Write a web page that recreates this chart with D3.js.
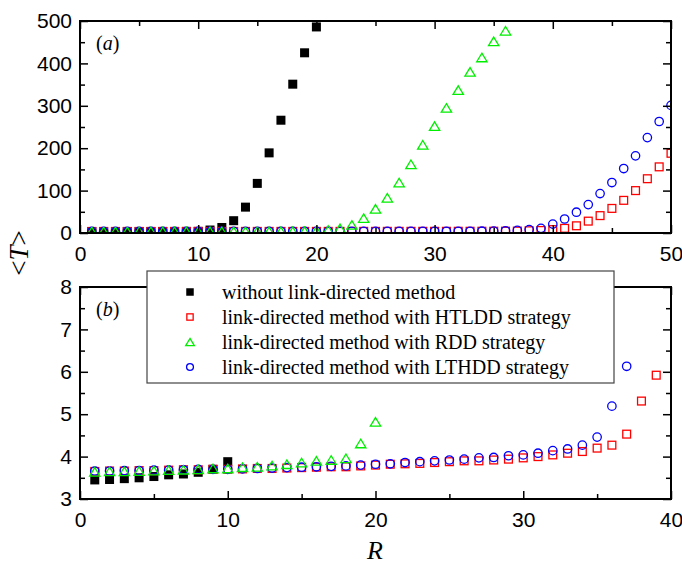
<!DOCTYPE html>
<html>
<head>
<meta charset="utf-8">
<script src="https://cdn.jsdelivr.net/npm/d3@7"></script>
<style>
  body { margin: 0; background: #fff; }
  svg { display: block; }
</style>
</head>
<body>
<svg id="chart" width="682" height="566"></svg>
<script>
// R values (network parameter) shared by all series
const rValues = [1,2,3,4,5,6,7,8,9,10,11,12,13,14,15,16,17,18,19,20,
                 21,22,23,24,25,26,27,28,29,30,31,32,33,34,35,36,37,38,39,40,
                 41,42,43,44,45,46,47,48,49,50];

// <T> for each series (index i -> R = rValues[i])
const tNoLink = [3.45,3.46,3.48,3.50,3.53,3.57,3.59,3.63,3.70,3.88,
                 7,13,29,61,117,189,266,351,425,486];
const tHTLDD = [3.65,3.66,3.66,3.67,3.67,3.68,3.69,3.69,3.70,3.70,
                3.71,3.72,3.72,3.73,3.74,3.75,3.76,3.76,3.78,3.80,
                3.82,3.83,3.84,3.86,3.88,3.90,3.90,3.92,3.94,3.97,
                4.00,4.04,4.08,4.12,4.20,4.27,4.53,5.31,5.92,8,
                11,17,28,41,58,77,100,128,156,188];
const tRDD = [3.64,3.65,3.65,3.66,3.67,3.68,3.69,3.70,3.72,3.72,
              3.75,3.76,3.79,3.82,3.86,3.90,3.92,3.96,4.31,4.82,
              7,11,19,35,57,83,119,162,208,252,295,337,380,414,452,477];
const tLTHDD = [3.66,3.66,3.67,3.67,3.68,3.68,3.69,3.70,3.70,3.70,
                3.71,3.72,3.73,3.74,3.75,3.76,3.77,3.78,3.80,3.82,
                3.83,3.86,3.88,3.90,3.92,3.94,3.97,3.98,4.02,4.04,
                4.08,4.14,4.18,4.27,4.46,5.19,6.13,8,11,21,
                33,49,67,93,119,152,182,225,263,301];

// how many points of each series appear in the zoomed panel (b)
const bottomCounts = [10, 39, 20, 37];

const seriesNames = ["without link-directed method",
                     "link-directed method with HTLDD strategy",
                     "link-directed method with RDD strategy",
                     "link-directed method with LTHDD strategy"];
const seriesValues = [tNoLink, tHTLDD, tRDD, tLTHDD];
const seriesShapes = ["filledSquare", "square", "triangle", "circle"];
const seriesColors = ["#000000", "#ff0000", "#00ee00", "#0000ff"];
const drawOrder = [0, 1, 3, 2];

const xTicksA = [0,10,20,30,40,50], yTicksA = [0,100,200,300,400,500];
const xTicksB = [0,10,20,30,40],    yTicksB = [3,4,5,6,7,8];

const svg = d3.select("#chart");
const left = 80, right = 671;

function drawMarker(sel, shape, color, s) {
    if (shape === "filledSquare") {
        sel.append("rect").attr("x", -s/2).attr("y", -s/2).attr("width", s).attr("height", s)
            .attr("fill", color);
    } else if (shape === "square") {
        sel.append("rect").attr("x", -s/2 + 0.6).attr("y", -s/2 + 0.6)
            .attr("width", s - 1.2).attr("height", s - 1.2)
            .attr("fill", "none").attr("stroke", color).attr("stroke-width", 1.3);
    } else if (shape === "circle") {
        sel.append("circle").attr("r", s/2 - 0.3)
            .attr("fill", "none").attr("stroke", color).attr("stroke-width", 1.3);
    } else {
        const h = s * 0.95, w = s * 1.15;
        sel.append("path").attr("d", `M0,${-h/2}L${w/2},${h/2}L${-w/2},${h/2}Z`)
            .attr("fill", "none").attr("stroke", color).attr("stroke-width", 1.3);
    }
}

function drawPanel(id, top, bottom, xDom, yDom, xTicks, yTicks, xMinor, yMinor, counts, label) {
    const x = d3.scaleLinear().domain(xDom).range([left, right]);
    const y = d3.scaleLinear().domain(yDom).range([bottom, top]);
    const g = svg.append("g");

    g.append("clipPath").attr("id", "clip" + id)
        .append("rect").attr("x", left).attr("y", top)
        .attr("width", right - left).attr("height", bottom - top);

    const pts = g.append("g").attr("clip-path", `url(#clip${id})`);
    drawOrder.forEach(k => {
        const vals = seriesValues[k].slice(0, counts ? counts[k] : undefined);
        pts.selectAll(null).data(vals).enter().append("g")
            .attr("transform", (d, i) => `translate(${x(rValues[i])},${y(d)})`)
            .each(function() { drawMarker(d3.select(this), seriesShapes[k], seriesColors[k], 9); });
    });

    // axes: ticks pointing inward on all four sides
    const tickStyle = s => s.selectAll("line").attr("stroke", "#000").attr("stroke-width", 1.5);
    const fmtText = s => s.selectAll("text").attr("font-family", "Liberation Sans, Arial, sans-serif")
        .attr("font-size", 21).attr("fill", "#000");

    g.append("g").attr("transform", `translate(0,${bottom})`)
        .call(d3.axisBottom(x).tickValues(xTicks).tickSize(-8).tickPadding(13).tickFormat(d3.format("d")))
        .call(s => s.select(".domain").remove()).call(tickStyle).call(fmtText);
    g.append("g").attr("transform", `translate(0,${bottom})`)
        .call(d3.axisBottom(x).tickValues(xMinor).tickSize(-5).tickFormat(""))
        .call(s => s.select(".domain").remove()).call(tickStyle);
    g.append("g").attr("transform", `translate(0,${top})`)
        .call(d3.axisTop(x).tickValues(xTicks).tickSize(-8).tickFormat(""))
        .call(s => s.select(".domain").remove()).call(tickStyle);
    g.append("g").attr("transform", `translate(0,${top})`)
        .call(d3.axisTop(x).tickValues(xMinor).tickSize(-5).tickFormat(""))
        .call(s => s.select(".domain").remove()).call(tickStyle);

    g.append("g").attr("transform", `translate(${left},0)`)
        .call(d3.axisLeft(y).tickValues(yTicks).tickSize(-8).tickPadding(8).tickFormat(d3.format("d")))
        .call(s => s.select(".domain").remove()).call(tickStyle).call(fmtText);
    g.append("g").attr("transform", `translate(${left},0)`)
        .call(d3.axisLeft(y).tickValues(yMinor).tickSize(-5).tickFormat(""))
        .call(s => s.select(".domain").remove()).call(tickStyle);
    g.append("g").attr("transform", `translate(${right},0)`)
        .call(d3.axisRight(y).tickValues(yTicks).tickSize(-8).tickFormat(""))
        .call(s => s.select(".domain").remove()).call(tickStyle);
    g.append("g").attr("transform", `translate(${right},0)`)
        .call(d3.axisRight(y).tickValues(yMinor).tickSize(-5).tickFormat(""))
        .call(s => s.select(".domain").remove()).call(tickStyle);

    g.append("rect").attr("x", left).attr("y", top)
        .attr("width", right - left).attr("height", bottom - top)
        .attr("fill", "none").attr("stroke", "#000").attr("stroke-width", 2);

    // panel label (a) / (b)
    const t = g.append("text").attr("x", left + 16).attr("y", top + 29)
        .attr("font-family", "Liberation Serif, Times New Roman, serif").attr("font-size", 20);
    t.append("tspan").text("(");
    t.append("tspan").attr("font-style", "italic").text(label);
    t.append("tspan").text(")");
    return { x, y };
}

drawPanel("a", 21, 233, [0, 50], [0, 500], xTicksA, yTicksA,
          [5, 15, 25, 35, 45], [50, 150, 250, 350, 450], null, "a");
drawPanel("b", 287, 499, [0, 40], [3, 8], xTicksB, yTicksB,
          [5, 15, 25, 35], [3.5, 4.5, 5.5, 6.5, 7.5], bottomCounts, "b");

// axis titles
svg.append("text").attr("x", 375).attr("y", 559).attr("text-anchor", "middle")
    .attr("font-family", "Liberation Serif, Times New Roman, serif")
    .attr("font-size", 26).attr("font-style", "italic").text("R");

const yl = svg.append("text").attr("transform", "translate(28,253) rotate(-90)")
    .attr("text-anchor", "middle")
    .attr("font-family", "Liberation Serif, Times New Roman, serif").attr("font-size", 27);
yl.append("tspan").text("<");
yl.append("tspan").attr("font-style", "italic").text("T");
yl.append("tspan").text(">");

// legend
const lg = svg.append("g");
lg.append("rect").attr("x", 147).attr("y", 271).attr("width", 467).attr("height", 112)
    .attr("fill", "#fff").attr("stroke", "#444").attr("stroke-width", 1.2);
seriesNames.forEach((name, k) => {
    const row = lg.append("g").attr("transform", `translate(190,${292 + k * 25})`);
    drawMarker(row, seriesShapes[k], seriesColors[k], 7.5);
    row.append("text").attr("x", 32).attr("y", 0).attr("dy", "0.33em")
        .attr("font-family", "Liberation Serif, Times New Roman, serif")
        .attr("font-size", 20).text(name);
});
</script>
</body>
</html>
